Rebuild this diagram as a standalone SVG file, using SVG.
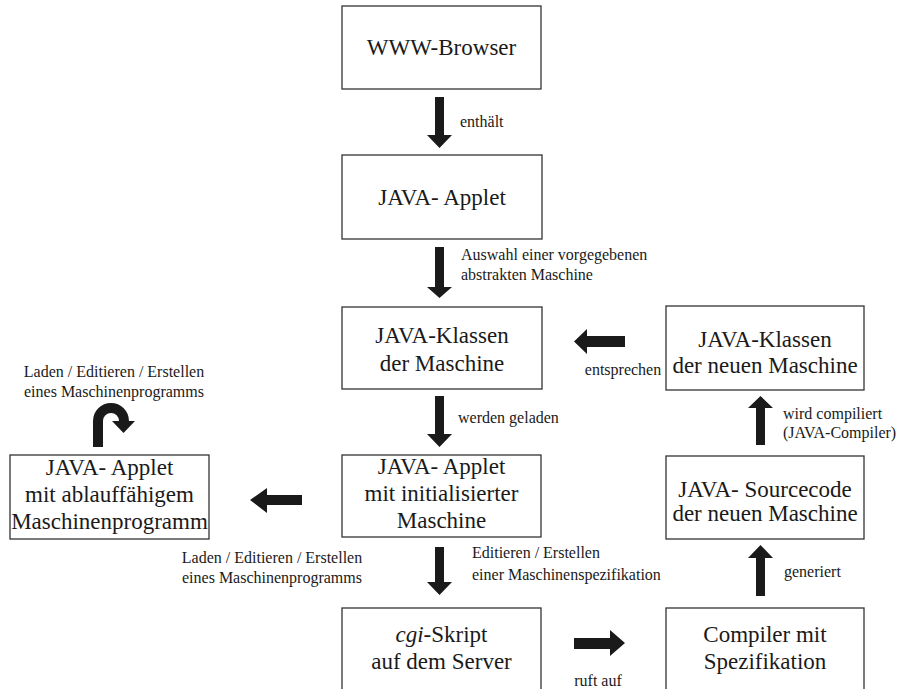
<svg xmlns="http://www.w3.org/2000/svg" width="902" height="689" viewBox="0 0 902 689">
<style>
.box{fill:#fff;stroke:#333;stroke-width:1.3}
.bt{font-family:'Liberation Serif','Tinos','Times New Roman','Noto Serif','DejaVu Serif',serif;font-size:23px;fill:#1a1a1a;text-anchor:middle}
.lb{font-family:'Liberation Serif','Tinos','Times New Roman','Noto Serif','DejaVu Serif',serif;font-size:16px;fill:#1a1a1a}
.ar{fill:#1a1a1a;stroke:none}
</style>
<rect width="902" height="689" fill="#fff"/>
<g id="n_browser"><rect class="box" x="342" y="6" width="199" height="83"/><text class="bt" x="441.5" y="55" font-family="Liberation Serif, serif">WWW-Browser</text></g>
<g id="n_applet"><rect class="box" x="342" y="155" width="200" height="84"/><text class="bt" x="442" y="205">JAVA- Applet</text></g>
<g id="n_klassen"><rect class="box" x="342" y="307" width="200" height="82"/><text class="bt" x="442" y="343">JAVA-Klassen</text><text class="bt" x="442" y="371">der Maschine</text></g>
<g id="n_klassen_neu"><rect class="box" x="666" y="306" width="198" height="84"/><text class="bt" x="765" y="347">JAVA-Klassen</text><text class="bt" x="765" y="373">der neuen Maschine</text></g>
<g id="n_applet_init"><rect class="box" x="342" y="455" width="199" height="82"/><text class="bt" x="441.5" y="474">JAVA- Applet</text><text class="bt" x="441.5" y="501">mit initialisierter</text><text class="bt" x="441.5" y="528">Maschine</text></g>
<g id="n_applet_prog"><rect class="box" x="10" y="455" width="199" height="84"/><text class="bt" x="109.5" y="475">JAVA- Applet</text><text class="bt" x="109.5" y="502">mit ablauffähigem</text><text class="bt" x="109.5" y="529">Maschinenprogramm</text></g>
<g id="n_source"><rect class="box" x="666" y="456" width="198" height="83"/><text class="bt" x="765" y="497">JAVA- Sourcecode</text><text class="bt" x="765" y="521">der neuen Maschine</text></g>
<g id="n_cgi"><rect class="box" x="342" y="608" width="199" height="100"/><text class="bt" x="441.5" y="642"><tspan font-style="italic">cgi</tspan>-Skript</text><text class="bt" x="441.5" y="669">auf dem Server</text></g>
<g id="n_compiler"><rect class="box" x="666" y="608" width="198" height="100"/><text class="bt" x="765" y="642">Compiler mit</text><text class="bt" x="765" y="669">Spezifikation</text></g>
<g id="connectors">
<polygon class="ar" points="435,97 444,97 444,135 452,135 439.5,148 427,135 435,135"/>
<polygon class="ar" points="435,247 444,247 444,287 452,287 439.5,298 427,287 435,287"/>
<polygon class="ar" points="435,396 444,396 444,434 452,434 439.5,447 427,434 435,434"/>
<polygon class="ar" points="435,547 444,547 444,582 452,582 439.5,595 427,582 435,582"/>
<polygon class="ar" points="756,445 765,445 765,408 773,408 760.5,396 748,408 756,408"/>
<polygon class="ar" points="756,596 765,596 765,558 773,558 760.5,545 748,558 756,558"/>
<polygon class="ar" points="625,336 625,347 587,347 587,354 574,341.5 587,329 587,336"/>
<polygon class="ar" points="302,495 302,505 267,505 267,513 250,500 267,488 267,495"/>
<polygon class="ar" points="574,638 574,649 610,649 610,656 625,643 610,630 610,638"/>
<path class="ar" d="M93,447 L93,421 A18,18 0 0 1 129,421 L135,421 L123.5,433 L112,421 L119,421 A8,8 0 0 0 103,421 L103,447 Z"/>
</g>
<g id="labels">
<text class="lb" x="460" y="127">enthält</text>
<text class="lb" x="461" y="260">Auswahl einer vorgegebenen</text>
<text class="lb" x="461" y="280">abstrakten Maschine</text>
<text class="lb" x="458" y="423">werden geladen</text>
<text class="lb" x="623" y="375" text-anchor="middle">entsprechen</text>
<text class="lb" x="783" y="419">wird compiliert</text>
<text class="lb" x="783" y="438">(JAVA-Compiler)</text>
<text class="lb" x="114" y="377" text-anchor="middle">Laden / Editieren / Erstellen</text>
<text class="lb" x="114" y="397" text-anchor="middle">eines Maschinenprogramms</text>
<text class="lb" x="272" y="563" text-anchor="middle">Laden / Editieren / Erstellen</text>
<text class="lb" x="272" y="583" text-anchor="middle">eines Maschinenprogramms</text>
<text class="lb" x="472" y="558">Editieren / Erstellen</text>
<text class="lb" x="472" y="580">einer Maschinenspezifikation</text>
<text class="lb" x="784" y="577">generiert</text>
<text class="lb" x="598" y="686" text-anchor="middle">ruft auf</text>
</g>
</svg>
